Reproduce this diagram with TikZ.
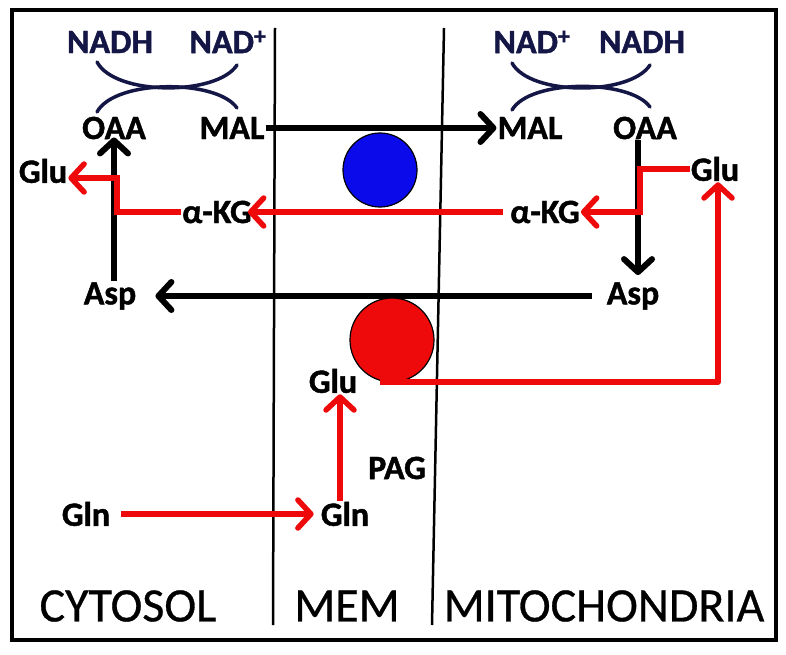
\documentclass[tikz,border=0pt]{standalone}
\usepackage{fontspec}
\setmainfont{Carlito}
\newfontfamily\heavyfont[FakeBold=1.3]{Carlito Bold}
\newfontfamily\zonefont[FakeBold=0.6]{Carlito}
\usetikzlibrary{arrows.meta}
\definecolor{myred}{RGB}{238,10,10}
\definecolor{myblue}{RGB}{10,10,235}
\definecolor{navy}{RGB}{20,22,70}
\begin{document}
\begin{tikzpicture}[x=1pt,y=-1pt,
  lbl/.style={font=\heavyfont\fontsize{34}{38}\selectfont, inner sep=1pt},
  nad/.style={lbl, text=navy},
  zone/.style={font=\zonefont\fontsize{48}{52}\selectfont, inner sep=0pt},
  tipb/.style={-{Straight Barb[length=13pt,width=28pt,round]}},
  blkarr/.style={tipb, draw=black, line width=6pt},
  redarr/.style={tipb, draw=myred, line width=5.5pt},
  arcl/.style={draw=navy, line width=3.5pt, line cap=round},
  divider/.style={draw=black, line width=2.5pt}]
\useasboundingbox (0,0) rectangle (786,655);
\fill[white] (0,0) rectangle (786,655);

% frame and dividers
\draw[line width=4pt] (12,10) rectangle (776,640);
\draw[divider] (275,28) -- (273,625);
\draw[divider] (444,28) -- (432,625);

% labels left
\node[nad] (nadhL) at (110,42) {NADH};
\node[nad] (nadpL) at (228,42) {NAD\textsuperscript{+}};
\node[lbl] (oaaL) at (114,128) {OAA};
\node[lbl] (malL) at (232,128) {MAL};
\node[lbl] (gluL) at (43,171) {Glu};
\node[lbl] (akgL) at (217,212) {α-KG};
\node[lbl] (aspL) at (110,296) {Asp};

% labels right
\node[nad] (nadpR) at (532,42) {NAD\textsuperscript{+}};
\node[nad] (nadhR) at (642,42) {NADH};
\node[lbl] (malR) at (530,128) {MAL};
\node[lbl] (oaaR) at (645,128) {OAA};
\node[lbl] (gluR) at (715,169) {Glu};
\node[lbl] (akgR) at (545,212) {α-KG};
\node[lbl] (aspR) at (633,296) {Asp};

% labels middle / bottom
\node[lbl] (gluM) at (333,381) {Glu};
\node[lbl] (pag) at (397,468) {PAG};
\node[lbl] (glnM) at (345,514) {Gln};
\node[lbl] (glnL) at (86,514) {Gln};

% zone labels
\node[zone] (cyt) at (128,606) {CYTOSOL};
\node[zone] (mem) at (347,606) {MEM};
\node[zone] (mito) at (604,606) {MITOCHONDRIA};

% redox arcs left
\draw[arcl] (97,62) .. controls (115,96) and (217,96) .. (237,65);
\draw[arcl] (97,112) .. controls (115,79) and (217,79) .. (237,108);
% redox arcs right
\draw[arcl] (512,63) .. controls (530,96) and (630,96) .. (650,65);
\draw[arcl] (512,110) .. controls (530,79) and (630,79) .. (650,107);

% coordinates for bends
\coordinate (kL2) at (117,178);
\coordinate (kR2) at (640,212);
\coordinate (lstart) at (380,382);

% black arrows
\draw[blkarr] (malL.east) -- (malR.west);
\draw[blkarr] (aspL.north -| oaaL.south) -- ([yshift=3pt]oaaL.south);
\draw[blkarr] ([xshift=-7pt]oaaR.south) -- ([xshift=-7pt,yshift=6pt]oaaR.south |- aspR.north);
\draw[blkarr, shorten <=14pt, shorten >=18pt] (aspR.west) -- (aspL.east);

% red arrows
\draw[redarr] (akgL.west) -| (kL2) -- (gluL.east |- kL2);
\draw[redarr] (gluR.west) -| (kR2) -- (akgR.east);
\draw[redarr, shorten <=6pt, shorten >=-5pt] (akgR.west) -- (akgL.east);
\draw[redarr, shorten <=10pt, shorten >=6pt] (glnL.east) -- (glnM.west);
\draw[redarr] ([xshift=-5pt]glnM.north) -- ([xshift=-5pt]glnM.north |- gluM.south);

% transporters
\node[circle, draw=black, line width=1.2pt, fill=myblue, minimum size=74pt, inner sep=0pt] (blueC) at (380,170) {};
\node[circle, draw=black, line width=1.2pt, fill=myred, minimum size=84pt, inner sep=0pt] (redC) at (392,340) {};

\draw[redarr, line join=round] (lstart) -| ([xshift=3pt]gluR.south);
\end{tikzpicture}
\end{document}
